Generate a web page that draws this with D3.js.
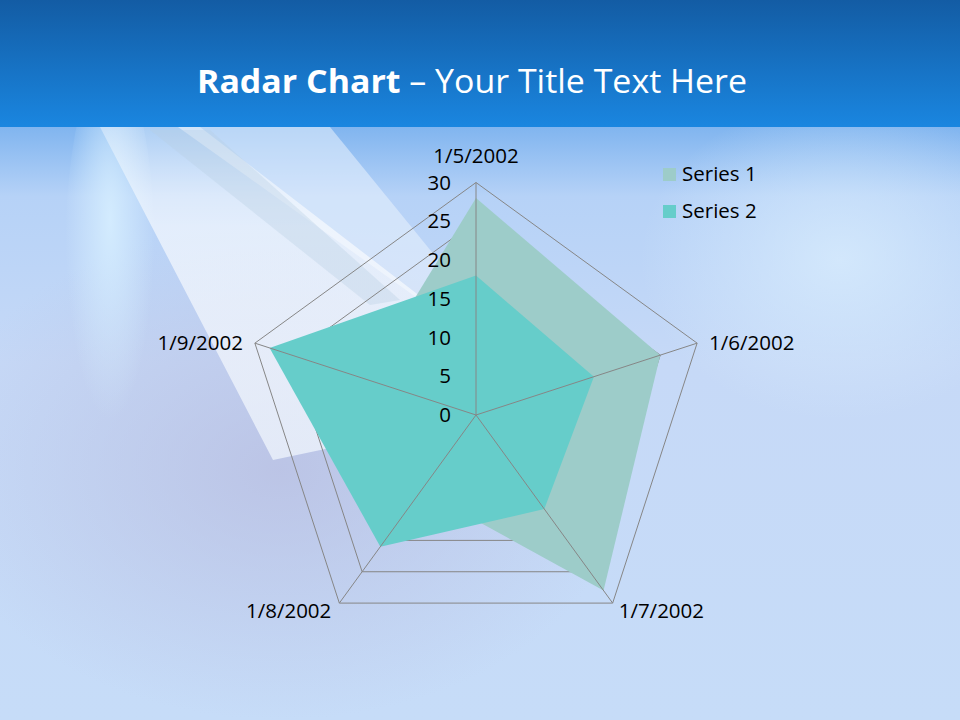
<!DOCTYPE html>
<html><head><meta charset="utf-8">
<script src="https://cdn.jsdelivr.net/npm/d3@7"></script>
<style>body{margin:0;}svg{display:block;}</style>
</head><body>
<svg id="chart" width="960" height="720"></svg>
<script>
const categories = ["1/5/2002", "1/6/2002", "1/7/2002", "1/8/2002", "1/9/2002"];
const seriesNames = ["Series 1", "Series 2"];
const series1 = [28, 25, 28, 12, 15];
const series2 = [18, 16, 15, 21, 28];
const tickValues = [0, 5, 10, 15, 20, 25, 30];
const seriesColors = ["#9dccc9", "#66cdca"];

const svg = d3.select("#chart");
const defs = svg.append("defs");
const FONT = "'Open Sans', sans-serif";

// background
const gTop = defs.append("linearGradient").attr("id","gTop").attr("x1",0).attr("y1",0).attr("x2",0).attr("y2",1);
gTop.append("stop").attr("offset","0%").attr("stop-color","#135ca4");
gTop.append("stop").attr("offset","100%").attr("stop-color","#1a86e0");
const gBot = defs.append("linearGradient").attr("id","gBot").attr("x1",0).attr("y1",0).attr("x2",0).attr("y2",1);
gBot.append("stop").attr("offset","0%").attr("stop-color","#7fb4ef");
gBot.append("stop").attr("offset","12%").attr("stop-color","#b6d2f7");
gBot.append("stop").attr("offset","40%").attr("stop-color","#c6d9f7");
gBot.append("stop").attr("offset","100%").attr("stop-color","#c6dcf8");
const gPurple = defs.append("radialGradient").attr("id","gPurple").attr("cx","0.4").attr("cy","0.5").attr("r","0.5");
gPurple.append("stop").attr("offset","0%").attr("stop-color","#b8bde0").attr("stop-opacity",0.75);
gPurple.append("stop").attr("offset","100%").attr("stop-color","#b8bde0").attr("stop-opacity",0);
const gLight = defs.append("radialGradient").attr("id","gLight").attr("cx","0.5").attr("cy","0.5").attr("r","0.5");
gLight.append("stop").attr("offset","0%").attr("stop-color","#d8ecfd").attr("stop-opacity",0.8);
gLight.append("stop").attr("offset","100%").attr("stop-color","#d8ecfd").attr("stop-opacity",0);
const gRay = defs.append("linearGradient").attr("id","gRay").attr("x1",0).attr("y1",0).attr("x2",0).attr("y2",1);
gRay.append("stop").attr("offset","0%").attr("stop-color","#ffffff").attr("stop-opacity",0.35);
gRay.append("stop").attr("offset","30%").attr("stop-color","#ffffff").attr("stop-opacity",0.6);
gRay.append("stop").attr("offset","100%").attr("stop-color","#f0f6fd").attr("stop-opacity",0.75);
const gGlow = defs.append("radialGradient").attr("id","gGlow").attr("cx","0.5").attr("cy","0.4").attr("r","0.5");
gGlow.append("stop").attr("offset","0%").attr("stop-color","#d6eeff").attr("stop-opacity",0.9);
gGlow.append("stop").attr("offset","100%").attr("stop-color","#d6eeff").attr("stop-opacity",0);

svg.append("rect").attr("x",0).attr("y",125).attr("width",960).attr("height",595).attr("fill","url(#gBot)");
svg.append("rect").attr("x",0).attr("y",220).attr("width",700).attr("height",500).attr("fill","url(#gPurple)");
svg.append("ellipse").attr("cx",840).attr("cy",260).attr("rx",200).attr("ry",160).attr("fill","url(#gLight)");
svg.append("ellipse").attr("cx",110).attr("cy",260).attr("rx",45).attr("ry",200).attr("fill","url(#gGlow)");
// light rays
svg.append("path").attr("d","M178,127 L330,127 L440,262 L420,300 Z").attr("fill","#eaf3fd").attr("opacity",0.55);
svg.append("path").attr("d","M100,127 L200,127 L425,300 L470,330 L330,448 L273,460 Z").attr("fill","url(#gRay)");
svg.append("path").attr("d","M150,130 L210,130 L400,300 L370,305 Z").attr("fill","#b7cfe2").attr("opacity",0.35);
svg.append("rect").attr("x",0).attr("y",0).attr("width",960).attr("height",127).attr("fill","url(#gTop)");

// title
const title = svg.append("text").attr("x",472).attr("y",93).attr("text-anchor","middle")
  .attr("font-family",FONT).attr("font-size",32).attr("fill","#ffffff")
  .attr("textLength",550).attr("lengthAdjust","spacingAndGlyphs");
title.append("tspan").attr("font-weight","bold").text("Radar Chart");
title.append("tspan").text(" \u2013 Your Title Text Here");

// radar
const cx = 476, cy = 415, R = 232.5;
const r = d3.scaleLinear().domain([0, 30]).range([0, R]);
const angle = d3.scalePoint().domain(categories).range([0, 2*Math.PI*(categories.length-1)/categories.length]);
const pt = (c, v) => [cx + r(v)*Math.sin(angle(c)), cy - r(v)*Math.cos(angle(c))];
const g = svg.append("g");

// rings
tickValues.filter(t => t > 0).forEach(t => {
  g.append("polygon").attr("points", categories.map(c => pt(c, t).join(",")).join(" "))
    .attr("fill","none").attr("stroke","#868686").attr("stroke-width",1);
});
// series polygons
[series1, series2].forEach((s, i) => {
  g.append("polygon").attr("points", categories.map((c, j) => pt(c, s[j]).join(",")).join(" "))
    .attr("fill", seriesColors[i]);
});
// spokes
categories.forEach(c => {
  const p = pt(c, 30);
  g.append("line").attr("x1",cx).attr("y1",cy).attr("x2",p[0]).attr("y2",p[1])
    .attr("stroke","#868686").attr("stroke-width",1);
});
// tick labels
tickValues.forEach(t => {
  g.append("text").attr("x", cx-25).attr("y", cy - r(t)).attr("dy","0.35em")
    .attr("text-anchor","end").attr("font-family",FONT).attr("font-size",20.5)
    .attr("fill","#000").text(t);
});
// category labels
const labelPos = [
  {dx:0, dy:-27, anchor:"middle"},
  {dx:12, dy:0, anchor:"start"},
  {dx:6, dy:8, anchor:"start"},
  {dx:-8, dy:8, anchor:"end"},
  {dx:-12, dy:0, anchor:"end"}
];
categories.forEach((c, i) => {
  const p = pt(c, 30);
  g.append("text").attr("x", p[0]+labelPos[i].dx).attr("y", p[1]+labelPos[i].dy).attr("dy","0.35em")
    .attr("text-anchor", labelPos[i].anchor).attr("font-family",FONT)
    .attr("font-size",20.5).attr("fill","#000").text(c);
});

// legend
seriesNames.forEach((n, i) => {
  const y = 174 + i*37;
  svg.append("rect").attr("x",663).attr("y",y-6).attr("width",13).attr("height",13).attr("fill",seriesColors[i]);
  svg.append("text").attr("x",682).attr("y",y).attr("dy","0.35em").attr("font-family",FONT)
    .attr("font-size",20.5).attr("fill","#000").text(n);
});
</script>
</body></html>
